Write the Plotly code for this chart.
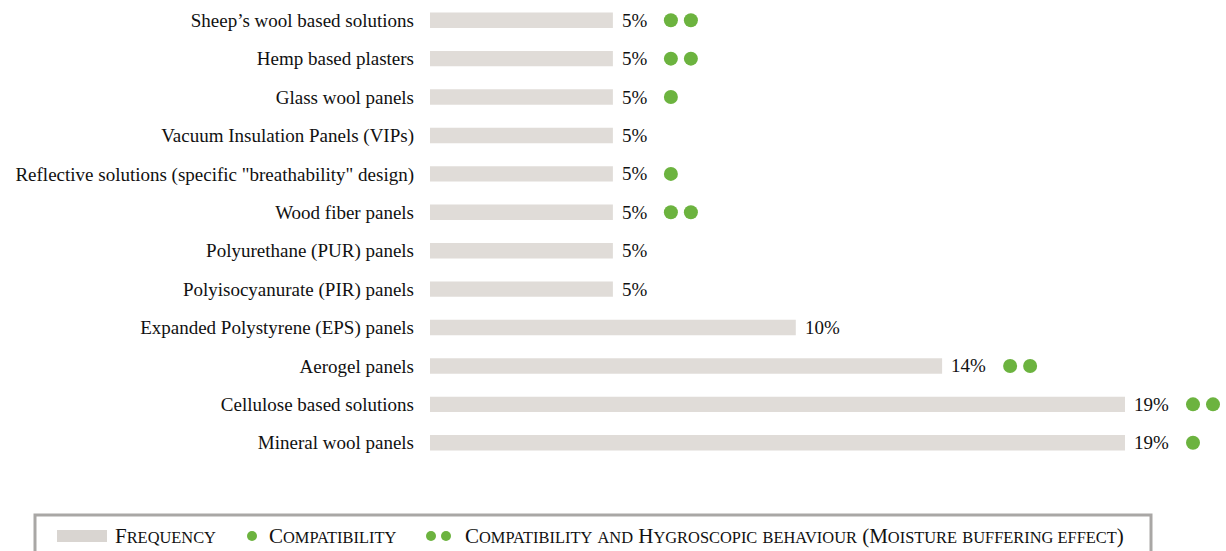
import plotly.graph_objects as go

categories = [
    "Sheep\u2019s wool based solutions",
    "Hemp based plasters",
    "Glass wool panels",
    "Vacuum Insulation Panels (VIPs)",
    "Reflective solutions (specific \"breathability\" design)",
    "Wood fiber panels",
    "Polyurethane (PUR) panels",
    "Polyisocyanurate (PIR) panels",
    "Expanded Polystyrene (EPS) panels",
    "Aerogel panels",
    "Cellulose based solutions",
    "Mineral wool panels",
]
frequency = [5, 5, 5, 5, 5, 5, 5, 5, 10, 14, 19, 19]
# 0 = none, 1 = compatibility, 2 = compatibility and hygroscopic behaviour
dots = [2, 2, 1, 0, 1, 2, 0, 0, 0, 2, 2, 1]

W, H = 1226, 551
ML, MR, MT, MB = 430, 0, 1, 89
PW, PH = W - ML - MR, H - MT - MB
XMAX = 19 * PW / 695.0
PXU = PW / XMAX  # pixels per data unit

BAR = "#e0dcd8"
GREEN = "#6cb33f"
SERIF = "Liberation Serif"

def px(x):
    return (x - ML) / PW

def py(y):
    return (H - MB - y) / PH

fig = go.Figure()
fig.add_trace(go.Bar(
    x=frequency, y=categories, orientation="h",
    marker=dict(color=BAR, line=dict(width=0)),
    width=0.4, hoverinfo="skip", showlegend=False,
))

# value labels
for cat, v in zip(categories, frequency):
    fig.add_annotation(x=v, y=cat, xref="x", yref="y", text=f"{v}%",
                       showarrow=False, xanchor="left", yanchor="middle",
                       xshift=7, font=dict(family=SERIF, size=19, color="#111"))

# dots
dx, dy = [], []
for cat, v, n in zip(categories, frequency, dots):
    tw = 26 if v < 10 else 36
    first = 8 + tw + 24
    for k in range(n):
        dx.append(v + (first + 20 * k) / PXU)
        dy.append(cat)
fig.add_trace(go.Scatter(x=dx, y=dy, mode="markers",
                         marker=dict(color=GREEN, size=14, line=dict(width=0)),
                         hoverinfo="skip", showlegend=False, cliponaxis=False))

# legend box
shapes = [
    dict(type="rect", xref="paper", yref="paper", x0=px(35), x1=px(1151),
         y0=py(560), y1=py(515), line=dict(color="#a9a7a5", width=3),
         fillcolor="white", layer="below"),
    dict(type="rect", xref="paper", yref="paper", x0=px(57), x1=px(107),
         y0=py(542), y1=py(530), line=dict(width=0), fillcolor="#d9d5d1"),
]
for cx in (252, 431, 446):
    shapes.append(dict(type="circle", xref="paper", yref="paper",
                       x0=px(cx - 5), x1=px(cx + 5), y0=py(541), y1=py(531),
                       line=dict(width=0), fillcolor=GREEN))

SMALL = 16.4

def sc(word):
    return f"{word[0]}<span style='font-size:{SMALL}px'>{word[1:].upper()}</span>"

def low(words):
    return f"<span style='font-size:{SMALL}px'>{words.upper()}</span>"

leg_items = [
    (113, sc("Frequency")),
    (267, sc("Compatibility")),
    (463, " ".join([sc("Compatibility"), low("and"), sc("Hygroscopic"),
                    low("behaviour"), "(" + sc("Moisture"),
                    low("buffering effect") + ")"])),
]
for x0, t in leg_items:
    fig.add_annotation(x=px(x0), y=py(536), xref="paper", yref="paper", text=t,
                       showarrow=False, xanchor="left", yanchor="middle",
                       font=dict(family=SERIF, size=21, color="#111"))

fig.update_layout(
    width=W, height=H,
    margin=dict(l=ML, r=MR, t=MT, b=MB, pad=0, autoexpand=False),
    plot_bgcolor="white", paper_bgcolor="white",
    shapes=shapes,
    xaxis=dict(range=[0, XMAX], visible=False, showgrid=False, zeroline=False,
               automargin=False),
    yaxis=dict(type="category", categoryorder="array", categoryarray=categories,
               range=[len(categories) - 0.5, -0.5], autorange=False,
               showgrid=False, zeroline=False, showline=False,
               ticks="", ticklabelstandoff=15, automargin=False,
               tickfont=dict(family=SERIF, size=19, color="#111")),
)

fig.write_html("out.html", config={"displayModeBar": False},
               post_script="document.body.style.margin='0';document.body.style.overflow='hidden';")
